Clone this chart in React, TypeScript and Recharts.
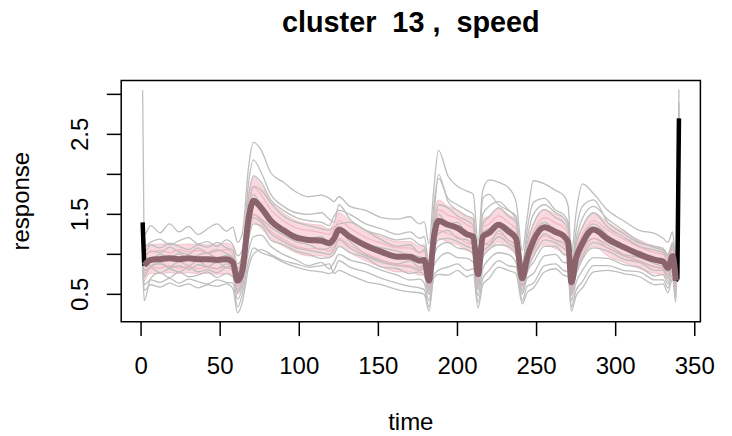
import { ComposedChart, Line, Area, XAxis, YAxis, ReferenceArea } from 'recharts';

// time knots (denser around the dips)
const time = [1, 2, 6, 12, 18, 24, 30, 36, 42, 48, 54, 58, 61, 64, 68, 71, 76, 82, 90, 98, 106, 114, 119, 122, 125, 132, 142, 152, 162, 170, 176, 179, 182, 185, 188, 194, 200, 206, 210, 213, 216, 220, 226, 232, 237, 241, 244, 248, 255, 262, 267, 270, 272, 275, 279, 286, 295, 305, 315, 325, 330, 333, 336, 338, 340];

// thick cluster mean
const meanCurve = [null, 0.86, 0.93, 0.94, 0.95, 0.94, 0.95, 0.94, 0.94, 0.93, 0.94, 0.90, 0.67, 0.80, 1.45, 1.67, 1.58, 1.42, 1.30, 1.21, 1.18, 1.17, 1.14, 1.20, 1.31, 1.22, 1.11, 1.03, 0.97, 0.97, 0.92, 0.93, 0.67, 1.20, 1.42, 1.37, 1.33, 1.25, 1.22, 0.75, 1.22, 1.27, 1.37, 1.29, 1.20, 0.70, 0.95, 1.17, 1.34, 1.28, 1.23, 1.15, 0.65, 0.95, 1.14, 1.31, 1.19, 1.09, 1.00, 0.93, 0.91, 0.83, 0.98, 0.67, null];

// pink band and a couple of pink strands inside it
const bandLo = [0.62, 0.66, 0.76, 0.76, 0.77, 0.76, 0.77, 0.76, 0.76, 0.75, 0.76, 0.72, 0.50, 0.62, 1.20, 1.40, 1.32, 1.20, 1.10, 1.02, 0.98, 0.98, 0.96, 1.02, 1.10, 1.02, 0.92, 0.84, 0.78, 0.78, 0.74, 0.74, 0.50, 0.98, 1.20, 1.15, 1.12, 1.05, 1.02, 0.56, 1.00, 1.06, 1.15, 1.08, 0.98, 0.52, 0.76, 0.96, 1.12, 1.07, 1.02, 0.95, 0.48, 0.76, 0.93, 1.10, 0.98, 0.90, 0.82, 0.76, 0.74, 0.66, 0.80, 0.48, null];
const bandHi = [1.14, 1.10, 1.12, 1.13, 1.13, 1.12, 1.13, 1.12, 1.12, 1.12, 1.14, 1.10, 0.85, 1.02, 1.75, 1.96, 1.86, 1.66, 1.52, 1.42, 1.38, 1.36, 1.32, 1.40, 1.52, 1.42, 1.30, 1.22, 1.16, 1.16, 1.10, 1.12, 0.85, 1.45, 1.68, 1.60, 1.55, 1.46, 1.42, 0.95, 1.44, 1.48, 1.58, 1.50, 1.42, 0.88, 1.15, 1.38, 1.56, 1.50, 1.45, 1.35, 0.85, 1.15, 1.35, 1.52, 1.40, 1.28, 1.18, 1.10, 1.08, 1.00, 1.16, 0.86, null];
const pinkUpper = [1.02, 1.00, 1.03, 1.05, 1.02, 1.06, 1.03, 1.05, 1.02, 1.04, 1.06, 1.00, 0.78, 0.92, 1.60, 1.84, 1.74, 1.56, 1.42, 1.33, 1.30, 1.27, 1.25, 1.31, 1.42, 1.33, 1.21, 1.14, 1.08, 1.08, 1.02, 1.04, 0.77, 1.32, 1.56, 1.49, 1.45, 1.37, 1.32, 0.85, 1.34, 1.38, 1.48, 1.40, 1.31, 0.79, 1.06, 1.28, 1.46, 1.39, 1.34, 1.25, 0.75, 1.06, 1.25, 1.42, 1.30, 1.19, 1.09, 1.02, 1.00, 0.92, 1.07, 0.77, null];
const pinkLower = [0.74, 0.76, 0.84, 0.83, 0.86, 0.83, 0.85, 0.82, 0.85, 0.82, 0.84, 0.80, 0.57, 0.69, 1.30, 1.50, 1.42, 1.29, 1.19, 1.10, 1.07, 1.07, 1.04, 1.10, 1.20, 1.11, 1.01, 0.93, 0.87, 0.86, 0.82, 0.83, 0.58, 1.08, 1.30, 1.26, 1.22, 1.14, 1.12, 0.65, 1.10, 1.16, 1.26, 1.18, 1.09, 0.61, 0.85, 1.06, 1.23, 1.17, 1.12, 1.05, 0.56, 0.85, 1.03, 1.20, 1.08, 0.99, 0.91, 0.84, 0.82, 0.74, 0.89, 0.57, null];

// raw mean, only visible at both ends
const blackStartTime = [1, 2];
const blackStartValue = [1.40, 0.86];
const blackEndTime = [338, 339, 340];
const blackEndValue = [0.67, 0.70, 2.70];

// individual members (gray)
const curveA = [1.30, 1.24, 1.36, 1.27, 1.38, 1.28, 1.35, 1.25, 1.32, 1.38, 1.29, 1.34, 1.15, 1.26, 2.10, 2.40, 2.30, 2.02, 1.90, 1.78, 1.72, 1.74, 1.70, 1.66, 1.72, 1.60, 1.55, 1.46, 1.44, 1.47, 1.38, 1.41, 1.13, 1.81, 2.30, 1.98, 1.85, 1.79, 1.75, 1.15, 1.80, 1.93, 1.90, 1.84, 1.66, 1.05, 1.45, 1.92, 1.88, 1.80, 1.74, 1.60, 1.00, 1.52, 1.88, 1.76, 1.55, 1.42, 1.30, 1.26, 1.20, 1.15, 1.28, 0.95, 2.90];
const curveB = [1.20, 1.10, 1.15, 1.19, 1.12, 1.17, 1.21, 1.13, 1.16, 1.10, 1.18, 1.12, 0.98, 1.05, 1.90, 2.18, 2.02, 1.75, 1.60, 1.52, 1.50, 1.52, 1.44, 1.40, 1.62, 1.44, 1.30, 1.18, 1.10, 1.12, 1.02, 1.06, 0.85, 1.60, 1.95, 1.70, 1.62, 1.55, 1.50, 0.98, 1.70, 1.75, 1.62, 1.55, 1.48, 0.88, 1.30, 1.65, 1.70, 1.55, 1.50, 1.40, 0.85, 1.30, 1.60, 1.68, 1.40, 1.26, 1.14, 1.10, 1.07, 1.00, 1.14, 0.82, 2.60];
const curveC = [1.10, 0.98, 1.04, 1.02, 1.09, 1.03, 1.00, 1.08, 1.02, 1.06, 1.01, 0.96, 0.82, 0.93, 1.58, 1.85, 1.80, 1.64, 1.48, 1.40, 1.36, 1.32, 1.30, 1.34, 1.38, 1.40, 1.30, 1.24, 1.18, 1.20, 1.12, 1.10, 0.78, 1.32, 1.62, 1.58, 1.48, 1.42, 1.36, 0.85, 1.38, 1.47, 1.58, 1.48, 1.40, 0.82, 1.12, 1.38, 1.56, 1.46, 1.40, 1.30, 0.78, 1.12, 1.34, 1.52, 1.34, 1.22, 1.10, 1.05, 1.02, 0.95, 1.08, 0.76, 2.75];
const curveD = [1.20, 0.98, 0.94, 1.00, 0.96, 1.01, 0.94, 0.99, 1.02, 0.95, 0.99, 0.92, 0.72, 0.85, 1.52, 1.75, 1.60, 1.46, 1.30, 1.25, 1.20, 1.22, 1.15, 1.20, 1.30, 1.20, 1.12, 1.08, 1.04, 0.99, 0.97, 0.95, 0.72, 1.25, 1.50, 1.38, 1.40, 1.26, 1.25, 0.80, 1.28, 1.32, 1.38, 1.34, 1.22, 0.74, 1.00, 1.24, 1.40, 1.30, 1.27, 1.17, 0.68, 0.96, 1.20, 1.38, 1.24, 1.10, 1.04, 0.94, 0.93, 0.88, 0.99, 0.70, 3.06];
const curveE = [3.05, 0.95, 0.86, 0.90, 0.84, 0.91, 0.86, 0.92, 0.85, 0.90, 0.84, 0.86, 0.60, 0.74, 1.30, 1.50, 1.44, 1.34, 1.24, 1.16, 1.12, 1.06, 1.08, 1.14, 1.28, 1.16, 1.00, 0.92, 0.88, 0.92, 0.84, 0.86, 0.58, 1.08, 1.26, 1.30, 1.20, 1.18, 1.10, 0.64, 1.14, 1.12, 1.30, 1.18, 1.12, 0.62, 0.88, 1.04, 1.26, 1.18, 1.15, 1.05, 0.56, 0.84, 1.06, 1.20, 1.12, 1.00, 0.96, 0.88, 0.84, 0.78, 0.90, 0.60, 2.50];
const curveF = [1.15, 0.80, 0.83, 0.77, 0.82, 0.78, 0.84, 0.78, 0.81, 0.77, 0.83, 0.80, 0.52, 0.66, 1.20, 1.38, 1.36, 1.18, 1.12, 1.04, 1.00, 0.95, 0.96, 1.00, 1.10, 1.02, 0.96, 0.84, 0.82, 0.76, 0.78, 0.74, 0.50, 0.96, 1.10, 1.15, 1.08, 1.06, 1.00, 0.56, 0.96, 1.06, 1.12, 1.10, 1.00, 0.55, 0.78, 0.90, 1.10, 1.10, 1.00, 0.98, 0.50, 0.75, 0.94, 1.08, 1.04, 0.94, 0.90, 0.80, 0.80, 0.70, 0.87, 0.56, 2.40];
const curveG = [0.90, 0.42, 0.70, 0.77, 0.71, 0.78, 0.72, 0.74, 0.78, 0.71, 0.76, 0.72, 0.44, 0.58, 1.05, 1.22, 1.24, 1.10, 1.00, 0.93, 0.86, 0.90, 0.82, 0.90, 1.00, 0.93, 0.88, 0.80, 0.74, 0.68, 0.69, 0.64, 0.42, 0.85, 0.95, 1.02, 0.96, 0.95, 0.90, 0.48, 0.82, 0.94, 1.02, 1.00, 0.90, 0.50, 0.70, 0.76, 0.98, 1.00, 0.90, 0.89, 0.42, 0.65, 0.80, 0.96, 0.95, 0.87, 0.84, 0.73, 0.75, 0.63, 0.82, 0.50, 2.65];
const curveH = [1.00, 0.62, 0.68, 0.65, 0.70, 0.64, 0.69, 0.66, 0.63, 0.68, 0.65, 0.64, 0.34, 0.50, 0.92, 1.08, 1.02, 0.98, 0.90, 0.84, 0.80, 0.78, 0.76, 0.80, 0.92, 0.84, 0.78, 0.70, 0.64, 0.60, 0.58, 0.56, 0.34, 0.74, 0.80, 0.84, 0.88, 0.80, 0.82, 0.40, 0.70, 0.80, 0.92, 0.86, 0.84, 0.42, 0.60, 0.64, 0.86, 0.88, 0.80, 0.78, 0.34, 0.55, 0.66, 0.86, 0.86, 0.80, 0.78, 0.68, 0.68, 0.58, 0.75, 0.44, 2.35];
const curveI = [0.85, 0.55, 0.62, 0.59, 0.64, 0.60, 0.63, 0.58, 0.62, 0.60, 0.63, 0.57, 0.27, 0.40, 0.84, 1.00, 1.06, 1.00, 0.92, 0.88, 0.84, 0.86, 0.88, 0.76, 0.80, 0.74, 0.66, 0.62, 0.56, 0.53, 0.52, 0.50, 0.29, 0.70, 0.75, 0.74, 0.80, 0.72, 0.75, 0.33, 0.62, 0.70, 0.84, 0.80, 0.76, 0.38, 0.52, 0.58, 0.78, 0.82, 0.74, 0.72, 0.29, 0.48, 0.58, 0.78, 0.80, 0.76, 0.72, 0.62, 0.63, 0.52, 0.70, 0.40, 2.45];
const curveJ = [1.05, 1.02, 1.12, 1.08, 1.14, 1.10, 1.06, 1.12, 1.09, 1.15, 1.08, 1.05, 0.88, 0.98, 1.72, 1.98, 1.90, 1.68, 1.55, 1.46, 1.42, 1.40, 1.36, 1.48, 1.55, 1.50, 1.38, 1.32, 1.25, 1.28, 1.20, 1.22, 0.90, 1.45, 2.00, 1.66, 1.55, 1.48, 1.44, 0.92, 1.50, 1.60, 1.66, 1.56, 1.44, 0.86, 1.20, 1.50, 1.62, 1.52, 1.46, 1.36, 0.82, 1.18, 1.45, 1.60, 1.44, 1.30, 1.16, 1.08, 1.05, 0.98, 1.12, 0.80, 2.85];
const curveK = [0.95, 0.72, 0.85, 0.88, 0.83, 0.86, 0.81, 0.87, 0.84, 0.82, 0.88, 0.82, 0.55, 0.70, 1.28, 1.46, 1.40, 1.26, 1.16, 1.08, 1.05, 1.02, 1.00, 1.06, 1.18, 1.08, 0.98, 0.90, 0.86, 0.84, 0.80, 0.82, 0.55, 1.02, 1.18, 1.20, 1.16, 1.10, 1.06, 0.60, 1.04, 1.10, 1.22, 1.14, 1.06, 0.60, 0.82, 0.98, 1.18, 1.14, 1.08, 1.02, 0.54, 0.80, 0.98, 1.15, 1.08, 0.98, 0.92, 0.84, 0.82, 0.74, 0.88, 0.58, 2.55];

const grayCurves = [curveA, curveB, curveC, curveD, curveE, curveF, curveG, curveH, curveI, curveJ, curveK];

const xTicks = [0, 50, 100, 150, 200, 250, 300, 350];
const yTicks = [0.5, 1, 1.5, 2, 2.5, 3];
const yLabelled = [0.5, 1.5, 2.5];

const rows = time.map((t, i) => {
  const row: Record<string, any> = {
    t,
    mean: meanCurve[i],
    band: bandLo[i] == null ? null : [bandLo[i], bandHi[i]],
    pinkUp: pinkUpper[i],
    pinkLow: pinkLower[i],
  };
  grayCurves.forEach((c, k) => { row['g' + k] = c[i]; });
  return row;
});
const blackStart = blackStartTime.map((t, i) => ({ t, black: blackStartValue[i] }));
const blackEnd = blackEndTime.map((t, i) => ({ t, black: blackEndValue[i] }));

const FONT = '"Liberation Sans", Arial, Helvetica, sans-serif';
const LEFT = 121.2, RIGHT = 700.4, TOP = 80.6, BOTTOM = 321.7;
const X_DOMAIN = [-12.56, 353.56];
const Y_DOMAIN = [0.158, 3.172];

const XTick = (p: any) => (
  <text x={p.x} y={374} textAnchor="middle" fontSize={24} fontFamily={FONT} fill="#000">{p.payload.value}</text>
);

const YTick = (p: any) => {
  const v = p.payload.value;
  if (!yLabelled.includes(v)) return <g />;
  const x = 88;
  return (
    <text x={x} y={p.y} transform={`rotate(-90, ${x}, ${p.y})`} textAnchor="middle" fontSize={24} fontFamily={FONT} fill="#000">{v}</text>
  );
};

export default function App() {
  return (
    <div style={{ position: 'absolute', left: 0, top: 0, width: 732, height: 436, background: '#fff' }}>
      <ComposedChart width={732} height={436} data={rows}
        margin={{ top: TOP, right: 732 - RIGHT, bottom: 436 - BOTTOM - 40, left: LEFT - 60 }}>
        <XAxis type="number" dataKey="t" domain={X_DOMAIN} allowDataOverflow ticks={xTicks} interval={0}
          axisLine={false} tickLine={{ stroke: '#000', strokeWidth: 1.5 }} tickSize={14.4} tick={XTick} height={40} />
        <YAxis type="number" domain={Y_DOMAIN} allowDataOverflow ticks={yTicks} interval={0}
          axisLine={false} tickLine={{ stroke: '#000', strokeWidth: 1.5 }} tickSize={14.4} tick={YTick} width={60} />
        {grayCurves.map((_, k) => (
          <Line key={k} dataKey={'g' + k} type="monotone" stroke="#bebebe" strokeWidth={1.3} dot={false} activeDot={false} isAnimationActive={false} />
        ))}
        <Area dataKey="band" type="monotone" stroke="#f0aebb" strokeWidth={1} strokeOpacity={0.6} fill="#f4b3bf" fillOpacity={0.5} isAnimationActive={false} />
        <Line dataKey="pinkUp" type="monotone" stroke="#eeaebb" strokeWidth={1.2} strokeOpacity={0.8} dot={false} activeDot={false} isAnimationActive={false} />
        <Line dataKey="pinkLow" type="monotone" stroke="#eeaebb" strokeWidth={1.2} strokeOpacity={0.8} dot={false} activeDot={false} isAnimationActive={false} />
        <Line data={blackStart} dataKey="black" type="linear" stroke="#000" strokeWidth={4.5} dot={false} activeDot={false} isAnimationActive={false} />
        <Line data={blackEnd} dataKey="black" type="linear" stroke="#000" strokeWidth={4.5} dot={false} activeDot={false} isAnimationActive={false} />
        <Line dataKey="mean" type="monotone" stroke="#8B636C" strokeWidth={6} dot={false} activeDot={false} isAnimationActive={false} />
        <ReferenceArea x1={X_DOMAIN[0]} x2={X_DOMAIN[1]} y1={Y_DOMAIN[0]} y2={Y_DOMAIN[1]} fill="none" stroke="#000" strokeWidth={1.5} ifOverflow="visible" />
      </ComposedChart>
      <svg width={732} height={436} style={{ position: 'absolute', left: 0, top: 0, pointerEvents: 'none' }}>
        <text x={(LEFT + RIGHT) / 2} y={31.6} textAnchor="middle" fontSize={28.8} fontWeight="bold" fontFamily={FONT} style={{ whiteSpace: 'pre' }}>cluster  13 ,  speed</text>
        <text x={(LEFT + RIGHT) / 2} y={430} textAnchor="middle" fontSize={24} fontFamily={FONT}>time</text>
        <text x={28.8} y={(TOP + BOTTOM) / 2} transform={`rotate(-90, 28.8, ${(TOP + BOTTOM) / 2})`} textAnchor="middle" fontSize={24} fontFamily={FONT}>response</text>
      </svg>
    </div>
  );
}
